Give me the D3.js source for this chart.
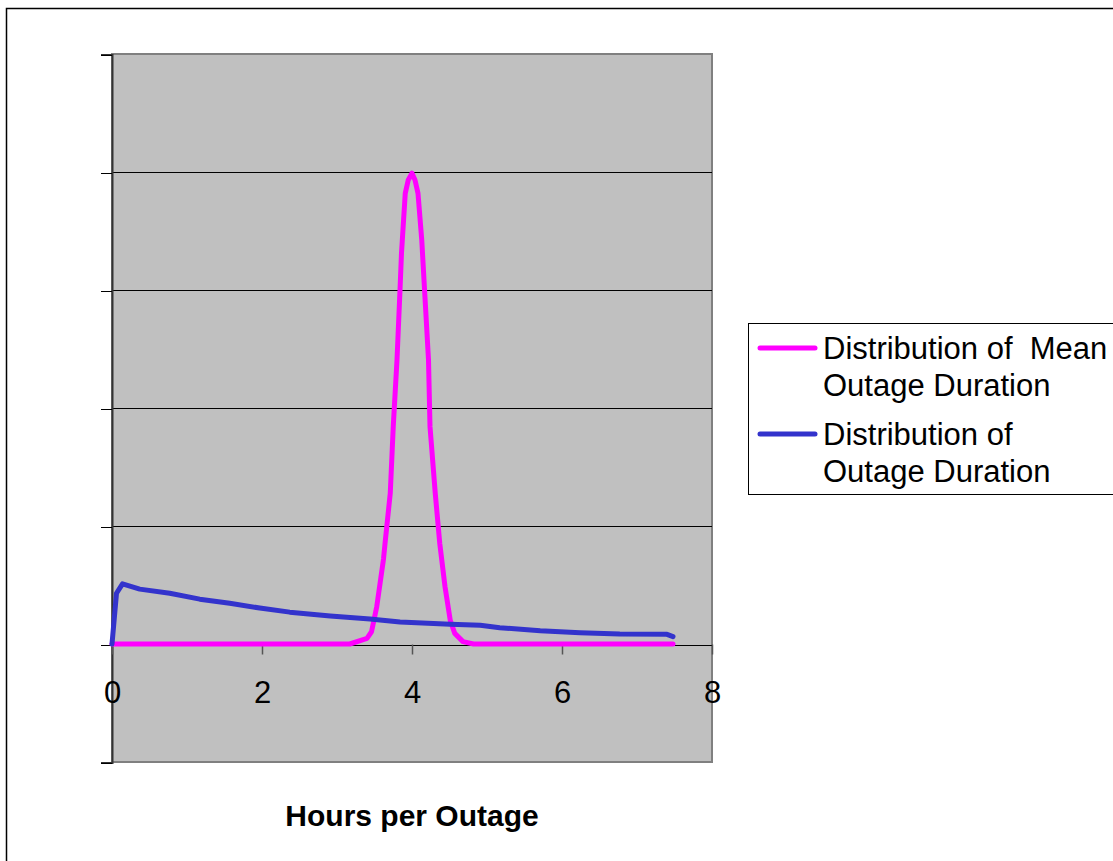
<!DOCTYPE html>
<html>
<head>
<meta charset="utf-8">
<script src="https://cdn.jsdelivr.net/npm/d3@7"></script>
<style>
  body { margin: 0; background: #fff; }
  text { font-family: Arial, "Liberation Sans", sans-serif; }
</style>
</head>
<body>
<svg id="canvas" width="1113" height="861"></svg>
<script>
// distribution of outage duration (blue)
let outageHours = [0, 0.06, 0.14, 0.37, 0.77, 1.17, 1.57, 1.97, 2.37, 2.91, 3.44, 3.84, 4.51, 4.91, 5.17, 5.71, 6.24, 6.77, 7.4, 7.48]
let outageDist = [0, 0.43, 0.51, 0.465, 0.43, 0.38, 0.345, 0.305, 0.27, 0.237, 0.212, 0.186, 0.167, 0.158, 0.138, 0.113, 0.096, 0.085, 0.082, 0.062]

// distribution of mean outage duration (magenta)
let meanHours = [0, 3.17, 3.4, 3.46, 3.53, 3.62, 3.64, 3.71, 3.75, 3.8, 3.84, 3.86, 3.91, 3.95, 4.0, 4.04, 4.08, 4.13, 4.17, 4.22, 4.24, 4.31, 4.37, 4.44, 4.51, 4.57, 4.68, 4.82, 7.48]
let meanDist = [0, 0, 0.048, 0.104, 0.316, 0.72, 0.85, 1.277, 1.842, 2.407, 3.0, 3.314, 3.819, 3.932, 3.99, 3.932, 3.819, 3.424, 2.972, 2.407, 1.842, 1.277, 0.853, 0.486, 0.2, 0.09, 0.02, 0, 0]

let xTicks = [0, 2, 4, 6, 8]
let yTicks = [-1, 0, 1, 2, 3, 4, 5]

let seriesNames = [['Distribution of  Mean', 'Outage Duration'], ['Distribution of', 'Outage Duration']]
let seriesColors = ['#ff00ff', '#3333cc']

let canvas = d3.select('#canvas')

let plotLeft = 112, plotRight = 712, plotTop = 54, plotBottom = 762

let xScale = d3.scaleLinear().domain([0, 8]).range([plotLeft, plotRight])
let yScale = d3.scaleLinear().domain([-1, 5]).range([plotBottom, plotTop])

// outer chart frame
canvas.append('rect')
      .attr('x', 6.5).attr('y', 8.5)
      .attr('width', 1300).attr('height', 1000)
      .attr('fill', 'none')
      .attr('stroke', '#000')
      .attr('stroke-width', 1.5)

// plot area
canvas.append('rect')
      .attr('x', plotLeft).attr('y', plotTop)
      .attr('width', plotRight - plotLeft).attr('height', plotBottom - plotTop)
      .attr('fill', '#c0c0c0')
      .attr('stroke', '#808080')
      .attr('stroke-width', 2)

// gridlines
canvas.append('g')
      .selectAll('line')
      .data(yTicks.filter(d => d > 0 && d < 5))
      .enter()
      .append('line')
      .attr('x1', plotLeft).attr('x2', plotRight)
      .attr('y1', d => yScale(d) + 0.5).attr('y2', d => yScale(d) + 0.5)
      .attr('stroke', '#000')
      .attr('stroke-width', 1)
      .attr('shape-rendering', 'crispEdges')

// y axis (ticks only, no labels)
let yAxis = d3.axisLeft(yScale).tickValues(yTicks).tickSize(11).tickFormat('')
canvas.append('g')
      .attr('transform', `translate(${plotLeft},0.5)`)
      .call(yAxis)
      .call(g => g.select('.domain').attr('stroke', '#333').attr('stroke-width', 2))
      .call(g => g.selectAll('.tick line').attr('stroke', '#000').attr('stroke-width', 1).attr('shape-rendering', 'crispEdges'))

// x axis crossing at zero
let xAxis = d3.axisBottom(xScale).tickValues(xTicks).tickSize(10).tickSizeOuter(0).tickPadding(26)
canvas.append('g')
      .attr('transform', `translate(0,${yScale(0) + 0.5})`)
      .call(xAxis)
      .call(g => g.select('.domain').attr('stroke', '#000').attr('stroke-width', 1).attr('shape-rendering', 'crispEdges'))
      .call(g => g.selectAll('.tick line').attr('stroke', '#555').attr('stroke-width', 1.5))
      .call(g => g.selectAll('.tick text')
                  .attr('fill', '#000')
                  .attr('font-size', 31)
                  .attr('font-family', 'Arial, "Liberation Sans", sans-serif'))

let line = d3.line()
             .x(d => xScale(d[0]))
             .y(d => yScale(d[1]))

let meanData = meanHours.map((h, i) => [h, meanDist[i]])
let outageData = outageHours.map((h, i) => [h, outageDist[i]])

canvas.append('path')
      .datum(meanData)
      .attr('d', line)
      .attr('fill', 'none')
      .attr('stroke', seriesColors[0])
      .attr('stroke-width', 5)
      .attr('stroke-linejoin', 'round')
      .attr('stroke-linecap', 'round')

canvas.append('path')
      .datum(outageData)
      .attr('d', line)
      .attr('fill', 'none')
      .attr('stroke', seriesColors[1])
      .attr('stroke-width', 5)
      .attr('stroke-linejoin', 'round')
      .attr('stroke-linecap', 'round')

// x axis title
canvas.append('text')
      .attr('x', (plotLeft + plotRight) / 2)
      .attr('y', 826)
      .attr('text-anchor', 'middle')
      .attr('font-size', 30)
      .attr('font-weight', 'bold')
      .text('Hours per Outage')

// legend
let legend = canvas.append('g')
legend.append('rect')
      .attr('x', 748.5).attr('y', 323.5)
      .attr('width', 500).attr('height', 171)
      .attr('fill', '#fff')
      .attr('stroke', '#000')
      .attr('stroke-width', 1)

let entries = legend.selectAll('g.entry')
      .data(seriesNames)
      .enter()
      .append('g')
      .attr('class', 'entry')
      .attr('transform', (d, i) => `translate(0,${i * 86})`)

entries.append('line')
       .attr('x1', 760).attr('x2', 815)
       .attr('y1', 348).attr('y2', 348)
       .attr('stroke', (d, i) => seriesColors[i])
       .attr('stroke-width', 5)
       .attr('stroke-linecap', 'round')

entries.append('text')
       .attr('x', 823)
       .attr('y', 359)
       .attr('font-size', 31)
       .attr('fill', '#000')
       .style('white-space', 'pre')
       .text(d => d[0])

entries.append('text')
       .attr('x', 823)
       .attr('y', 396)
       .attr('font-size', 31)
       .attr('fill', '#000')
       .text(d => d[1])
</script>
</body>
</html>
